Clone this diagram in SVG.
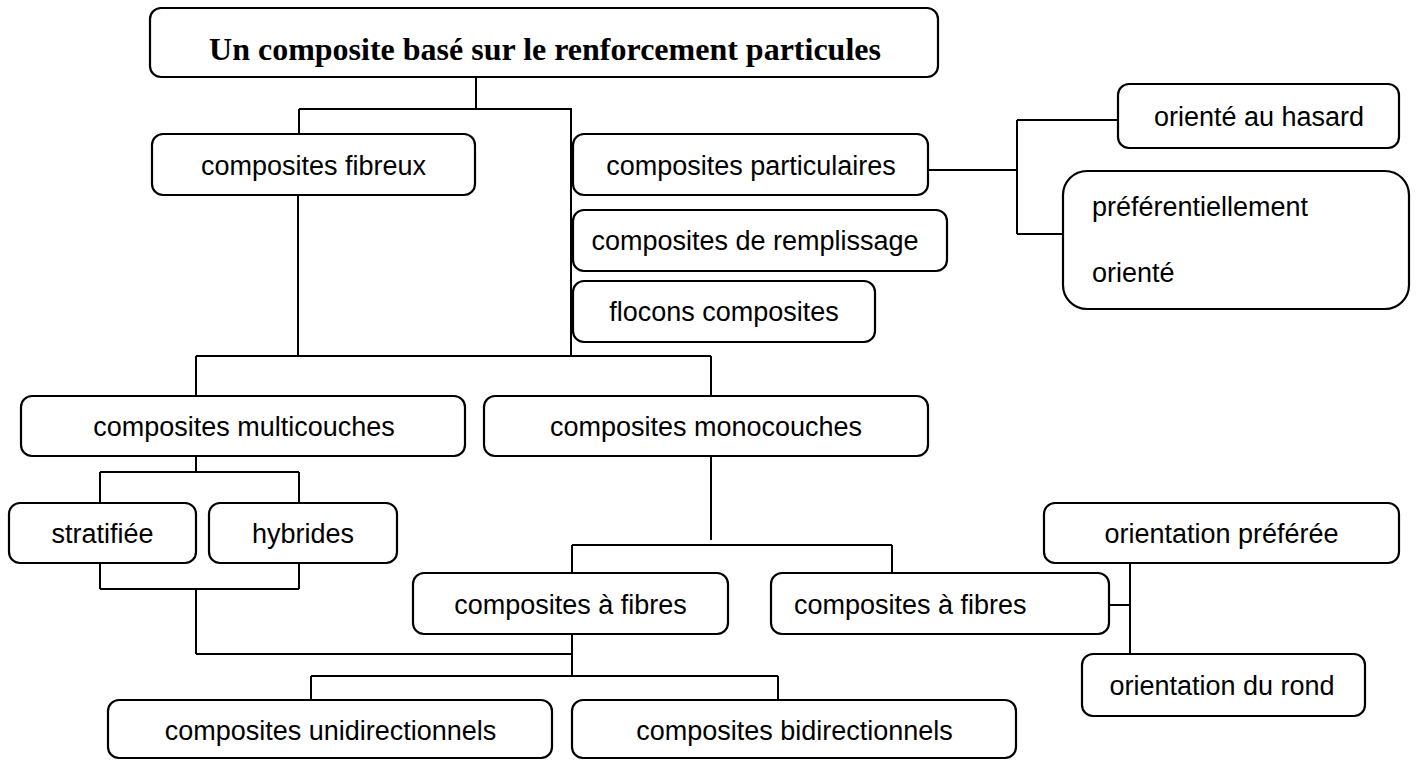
<svg xmlns="http://www.w3.org/2000/svg" width="1421" height="760" viewBox="0 0 1421 760">
<style>
.b{fill:#fff;stroke:#000;stroke-width:2.2}
.t{font-family:"Liberation Sans",Arial,sans-serif;font-size:27px;fill:#000;text-anchor:middle}
.l{text-anchor:start}
.title{font-family:"Liberation Serif","Times New Roman",serif;font-size:32px;font-weight:bold;fill:#000;text-anchor:middle}
#connectors path{fill:none;stroke:#000;stroke-width:2}
</style>
<rect width="1421" height="760" fill="#fff"/>
<g id="connectors">
<path d="M476 77V109M299 109H572M299 109V134M571 109V356"/>
<path d="M929 170H1017M1017 120V234M1017 120H1118M1017 234H1063"/>
<path d="M298 195V356M196 356H711M196 356V396M711 356V396"/>
<path d="M196 457V472M100 472H299M100 472V503M299 472V503"/>
<path d="M100 563V589M299 563V589M100 589H299M196 589V654M196 654H572"/>
<path d="M711 457V540M572 545H892M572 545V573M892 545V584"/>
<path d="M1109 605H1130M1130 563V654"/>
<path d="M572 634V676M311 676H778M311 676V700M778 676V700"/>
</g>
<g id="n-title"><rect class="b" x="150" y="8" width="788" height="69" rx="11"/><text class="title" x="545" y="60">Un composite basé sur le renforcement particules</text></g>
<g id="n-fibreux"><rect class="b" x="152" y="134" width="323" height="61" rx="11"/><text class="t" x="313.5" y="175">composites fibreux</text></g>
<g id="n-particulaires"><rect class="b" x="573" y="134" width="355" height="61" rx="11"/><text class="t" x="751" y="175">composites particulaires</text></g>
<g id="n-hasard"><rect class="b" x="1118" y="84" width="281" height="64" rx="11"/><text class="t" x="1259" y="126">orienté au hasard</text></g>
<g id="n-pref"><rect class="b" x="1063" y="171" width="346" height="138" rx="24"/><text class="t l" x="1092" y="216">préférentiellement</text><text class="t l" x="1092" y="282">orienté</text></g>
<g id="n-remplissage"><rect class="b" x="573" y="210" width="374" height="61" rx="11"/><text class="t" x="755" y="250">composites de remplissage</text></g>
<g id="n-flocons"><rect class="b" x="573" y="281" width="302" height="61" rx="11"/><text class="t" x="724" y="321">flocons composites</text></g>
<g id="n-multi"><rect class="b" x="21" y="396" width="444" height="60" rx="11"/><text class="t" x="244" y="436">composites multicouches</text></g>
<g id="n-mono"><rect class="b" x="484" y="396" width="444" height="60" rx="11"/><text class="t" x="706" y="436">composites monocouches</text></g>
<g id="n-strat"><rect class="b" x="9" y="503" width="187" height="60" rx="11"/><text class="t" x="102.5" y="543">stratifiée</text></g>
<g id="n-hybrides"><rect class="b" x="209" y="503" width="188" height="60" rx="11"/><text class="t" x="303" y="543">hybrides</text></g>
<g id="n-fibres1"><rect class="b" x="413" y="573" width="315" height="61" rx="11"/><text class="t" x="570.5" y="614">composites à fibres</text></g>
<g id="n-fibres2"><rect class="b" x="771" y="573" width="338" height="61" rx="11"/><text class="t l" x="794" y="614">composites à fibres</text></g>
<g id="n-orpref"><rect class="b" x="1044" y="503" width="355" height="60" rx="11"/><text class="t" x="1221.5" y="543">orientation préférée</text></g>
<g id="n-rond"><rect class="b" x="1082" y="654" width="283" height="62" rx="11"/><text class="t" x="1222" y="695">orientation du rond</text></g>
<g id="n-uni"><rect class="b" x="108" y="700" width="444" height="58" rx="11"/><text class="t" x="330.5" y="740">composites unidirectionnels</text></g>
<g id="n-bi"><rect class="b" x="572" y="700" width="444" height="58" rx="11"/><text class="t" x="794.5" y="740">composites bidirectionnels</text></g>
</svg>
